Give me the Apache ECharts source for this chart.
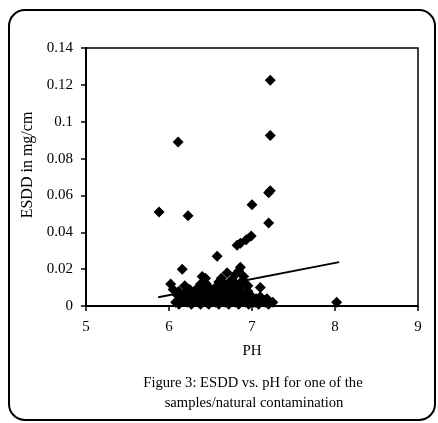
<!DOCTYPE html>
<html><head><meta charset="utf-8">
<script src="https://cdn.jsdelivr.net/npm/echarts@6/dist/echarts.min.js"></script>
<style>html,body{margin:0;padding:0;background:#fff}#c{width:438px;height:423px}</style>
</head><body><div id="c"></div>
<script>
// pH values and ESDD (mg/cm)
const phValues = [
  5.88,6.11,6.23,7.22,7.22,7.22,7.20,7.00,7.20,6.99,6.93,6.86,6.82,6.58,6.16,6.86,6.84,6.70,6.40,6.02,6.19,7.10,8.02,
  6.08,6.12,6.18,6.22,6.27,6.31,6.35,6.38,6.42,6.45,6.48,6.52,6.56,6.60,6.64,6.68,6.72,6.76,6.80,6.84,6.88,6.92,6.96,7.00,7.04,7.08,7.12,7.16,7.20,7.25,
  6.10,6.15,6.20,6.25,6.30,6.33,6.36,6.40,6.43,6.46,6.50,6.53,6.57,6.62,6.66,6.70,6.74,6.78,6.82,6.86,6.90,6.95,7.00,7.05,7.15,
  6.38,6.42,6.45,6.40,6.48,6.35,6.44,6.60,6.63,6.67,6.75,6.80,6.90,6.88,6.95,6.05,6.12,6.25,
  6.32,6.37,6.41,6.47,6.51,6.55,6.39,6.43,6.34,6.29,6.58,6.65,6.69,6.73,6.77,6.81,6.85,6.89,6.93,6.97,
  6.36,6.46,6.52,6.62,6.72,6.83,6.91,7.02,6.26,6.18,7.10,7.18,6.14,6.56,6.68
];
const esddValues = [
  0.051,0.089,0.049,0.1225,0.0925,0.0625,0.0615,0.055,0.045,0.038,0.036,0.034,0.033,0.027,0.020,0.021,0.019,0.018,0.016,0.012,0.011,0.010,0.002,
  0.002,0.001,0.003,0.002,0.001,0.003,0.002,0.001,0.003,0.002,0.001,0.003,0.002,0.001,0.003,0.002,0.001,0.003,0.002,0.001,0.003,0.002,0.001,0.003,0.002,0.001,0.003,0.002,0.001,0.002,
  0.006,0.004,0.007,0.005,0.006,0.008,0.005,0.009,0.007,0.010,0.006,0.008,0.005,0.007,0.009,0.006,0.008,0.010,0.007,0.009,0.006,0.008,0.005,0.004,0.003,
  0.012,0.013,0.012,0.011,0.010,0.010,0.015,0.013,0.015,0.012,0.014,0.017,0.016,0.012,0.011,0.009,0.008,0.009,
  0.004,0.007,0.004,0.005,0.004,0.003,0.009,0.011,0.007,0.004,0.009,0.011,0.004,0.011,0.005,0.012,0.005,0.014,0.004,0.006,
  0.003,0.003,0.004,0.004,0.003,0.004,0.003,0.002,0.003,0.004,0.005,0.004,0.004,0.010,0.008
];
// linear trend line end points
const trendPh = [5.87, 8.05];
const trendEsdd = [0.0048, 0.0238];
const xTicks = [5, 6, 7, 8, 9];
const yTicks = [0, 0.02, 0.04, 0.06, 0.08, 0.1, 0.12, 0.14];
const captionLines = ["Figure 3: ESDD vs. pH for one of the", "samples/natural contamination"];

const font = "Liberation Serif";
const chart = echarts.init(document.getElementById('c'), null, {renderer: 'canvas'});
chart.setOption({
  animation: false,
  backgroundColor: '#fff',
  textStyle: {fontFamily: font, color: '#000'},
  grid: {left: 86, right: 20, top: 48, bottom: 117, show: true, borderColor: '#000', borderWidth: 1.5},
  xAxis: {
    type: 'value', min: xTicks[0], max: xTicks[xTicks.length - 1], interval: 1,
    name: 'PH', nameLocation: 'middle', nameGap: 38,
    nameTextStyle: {fontFamily: font, fontSize: 15, color: '#000'},
    axisLine: {lineStyle: {color: '#000', width: 2}},
    axisTick: {show: true, length: 5, lineStyle: {color: '#000', width: 1.5}},
    axisLabel: {fontFamily: font, fontSize: 15, color: '#000', margin: 14},
    splitLine: {show: false}
  },
  yAxis: {
    type: 'value', min: yTicks[0], max: yTicks[yTicks.length - 1], interval: 0.02,
    name: 'ESDD in mg/cm', nameLocation: 'middle', nameGap: 49, nameRotate: 90,
    nameTextStyle: {fontFamily: font, fontSize: 16, color: '#000', padding: [0, 0, 0, 24]},
    axisLine: {show: true, lineStyle: {color: '#000', width: 2}},
    axisTick: {show: true, length: 5, lineStyle: {color: '#000', width: 1.5}},
    axisLabel: {fontFamily: font, fontSize: 15, color: '#000', margin: 13},
    splitLine: {show: false}
  },
  graphic: [
    {type: 'rect', x: 9, y: 10, shape: {width: 426, height: 410, r: 16},
     style: {fill: 'none', stroke: '#000', lineWidth: 2}, z: -1},
    {type: 'text', x: 253, y: 376, style: {text: captionLines[0], font: '14.6px "Liberation Serif"', fill: '#000', textAlign: 'center', textVerticalAlign: 'top'}},
    {type: 'text', x: 254, y: 396, style: {text: captionLines[1], font: '14.6px "Liberation Serif"', fill: '#000', textAlign: 'center', textVerticalAlign: 'top'}}
  ],
  series: [
    {
      type: 'scatter', symbol: 'diamond', symbolSize: 11,
      itemStyle: {color: '#000', opacity: 1},
      data: phValues.map((p, i) => [p, esddValues[i]])
    },
    {
      type: 'line', symbol: 'none', silent: true,
      lineStyle: {color: '#000', width: 2},
      data: trendPh.map((p, i) => [p, trendEsdd[i]])
    }
  ]
});
</script></body></html>
